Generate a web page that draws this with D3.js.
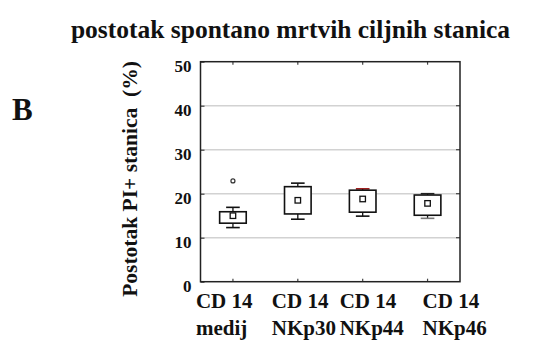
<!DOCTYPE html>
<html><head><meta charset="utf-8">
<script src="https://cdn.jsdelivr.net/npm/d3@7/dist/d3.min.js"></script>
<style>
html,body{margin:0;padding:0;background:#fff;}
svg{display:block;}
svg text{font-family:"Liberation Serif","Times New Roman",Times,serif !important;font-weight:bold !important;fill:#111;}
</style></head>
<body>
<svg id="chart" width="534" height="342"></svg>
<script>
// ---- data ----
const categories = ["medij", "NKp30", "NKp44", "NKp46"];
const labelTop = ["CD 14", "CD 14", "CD 14", "CD 14"];
const labelBottom = ["medij", "NKp30", "NKp44", "NKp46"];
const whiskerLow = [12.3, 14.2, 14.9, 14.4];
const q1 = [13.3, 15.4, 15.8, 15.1];
const medians = [15.0, 18.5, 18.8, 17.8];
const q3 = [15.9, 21.6, 20.8, 19.7];
const whiskerHigh = [16.9, 22.4, 21.1, 20.0];
const outliers = [[22.9], [], [], []];
const yTicks = [0, 10, 20, 30, 40, 50];
const gridTicks = [10, 20, 30, 40];
const title = "postotak spontano mrtvih ciljnih stanica";
const yTitle = "Postotak PI+ stanica  (%)";
const panelLetter = "B";

// ---- layout ----
const L = 200.5, R = 460, T = 61.7, B = 281.7;
const labelShift = [-37, -26, -23, -5];
const topCapColor = ["#111", "#111", "#9a1010", "#222"];
const lowCapColor = ["#111", "#111", "#111", "#777"];

const svg = d3.select("#chart");
const x = d3.scaleBand().domain(categories).range([L, R]);
const y = d3.scaleLinear().domain([0, 50]).range([B, T]);
const bw = x.bandwidth();
const cx = c => x(c) + bw / 2;

// grid
svg.append("g").selectAll("line").data(gridTicks).join("line")
  .attr("x1", L).attr("x2", R)
  .attr("y1", d => y(d)).attr("y2", d => y(d))
  .attr("stroke", "#d2d2d2").attr("stroke-width", 1.4);

// left axis: inner ticks + labels
const axL = d3.axisLeft(y).tickValues(yTicks).tickSizeInner(-4).tickSizeOuter(0).tickPadding(9).tickFormat(d => d);
const gL = svg.append("g").attr("transform", `translate(${L},0)`).call(axL);
gL.select(".domain").remove();
gL.selectAll(".tick line").attr("stroke", "#444").attr("stroke-width", 1.2);
gL.selectAll("text").attr("x", -9).attr("dy", "0.56em")
  .style("font-size", "17px").attr("fill", "#111");

// right ticks
svg.append("g").selectAll("line").data(gridTicks).join("line")
  .attr("x1", R - 4).attr("x2", R)
  .attr("y1", d => y(d)).attr("y2", d => y(d))
  .attr("stroke", "#444").attr("stroke-width", 1.2);
// top & bottom ticks
svg.append("g").selectAll("line").data(categories).join("line")
  .attr("x1", d => cx(d)).attr("x2", d => cx(d))
  .attr("y1", T).attr("y2", T + 3).attr("stroke", "#444").attr("stroke-width", 1.2);
svg.append("g").selectAll("line").data(categories).join("line")
  .attr("x1", d => cx(d)).attr("x2", d => cx(d))
  .attr("y1", B).attr("y2", B - 3).attr("stroke", "#444").attr("stroke-width", 1.2);

// frame
svg.append("rect").attr("x", L).attr("y", T).attr("width", R - L).attr("height", B - T)
  .attr("fill", "none").attr("stroke", "#222").attr("stroke-width", 1.5);

// boxes
const boxW = bw * 0.41, capW = bw * 0.21, medS = 5.5;
categories.forEach((c, i) => {
  const g = svg.append("g");
  const xc = cx(c);
  g.append("line").attr("x1", xc).attr("x2", xc).attr("y1", y(whiskerHigh[i])).attr("y2", y(q3[i]))
    .attr("stroke", "#111").attr("stroke-width", 1.3);
  g.append("line").attr("x1", xc).attr("x2", xc).attr("y1", y(q1[i])).attr("y2", y(whiskerLow[i]))
    .attr("stroke", "#111").attr("stroke-width", 1.3);
  g.append("line").attr("x1", xc - capW / 2).attr("x2", xc + capW / 2)
    .attr("y1", y(whiskerHigh[i])).attr("y2", y(whiskerHigh[i]))
    .attr("stroke", topCapColor[i]).attr("stroke-width", 1.6);
  g.append("line").attr("x1", xc - capW / 2).attr("x2", xc + capW / 2)
    .attr("y1", y(whiskerLow[i])).attr("y2", y(whiskerLow[i]))
    .attr("stroke", lowCapColor[i]).attr("stroke-width", 1.6);
  g.append("rect").attr("x", xc - boxW / 2).attr("width", boxW)
    .attr("y", y(q3[i])).attr("height", y(q1[i]) - y(q3[i]))
    .attr("fill", "#fff").attr("stroke", "#111").attr("stroke-width", 1.6);
  g.append("rect").attr("x", xc - medS / 2).attr("y", y(medians[i]) - medS / 2)
    .attr("width", medS).attr("height", medS)
    .attr("fill", "#fff").attr("stroke", "#111").attr("stroke-width", 1.3);
  g.selectAll("circle").data(outliers[i]).join("circle")
    .attr("cx", xc).attr("cy", d => y(d)).attr("r", 2)
    .attr("fill", "#fff").attr("stroke", "#333").attr("stroke-width", 1.2);
});

// x labels
categories.forEach((c, i) => {
  const t = svg.append("text").attr("text-anchor", "start").style("font-size", "21px");
  t.append("tspan").attr("x", cx(c) + labelShift[i]).attr("y", 308).text(labelTop[i]);
  t.append("tspan").attr("x", cx(c) + labelShift[i]).attr("y", 335).text(labelBottom[i]);
});

// title
svg.append("text").attr("x", 290.5).attr("y", 38).attr("text-anchor", "middle")
  .style("font-size", "25.5px").text(title);

// y title
svg.append("text").attr("transform", "translate(137,179) rotate(-90)")
  .attr("text-anchor", "middle").style("font-size", "21.5px").style("white-space", "pre")
  .text(yTitle);

// panel letter
svg.append("text").attr("x", 12).attr("y", 119.5).style("font-size", "31px").text(panelLetter);
</script>
</body></html>
